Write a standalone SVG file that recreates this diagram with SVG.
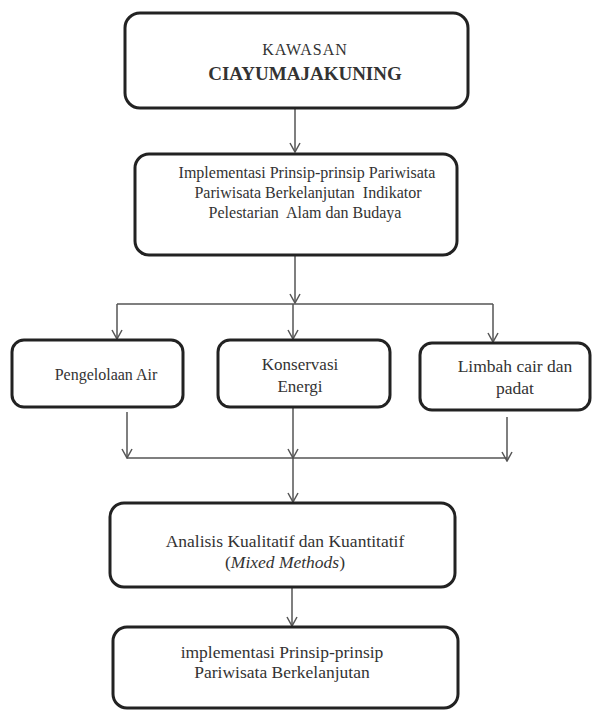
<svg xmlns="http://www.w3.org/2000/svg" width="592" height="711" viewBox="0 0 592 711">
<style>
.box{fill:#fff;stroke:#222;stroke-width:3}
.t{font-family:"Liberation Serif","Times New Roman",serif;font-size:16px;fill:#333;text-anchor:middle;white-space:pre}
.l{font-size:17.5px}
.c{fill:none;stroke:#555;stroke-width:1.5}
</style>
<defs>
<marker id="ah" viewBox="0 0 12 12" refX="11" refY="6" markerWidth="12" markerHeight="12" markerUnits="userSpaceOnUse" orient="auto">
<path d="M2,1 L11,6 L2,11" fill="none" stroke="#555" stroke-width="1.5"/>
</marker>
</defs>
<rect width="592" height="711" fill="#fff"/>
<g id="connectors">
<line class="c" x1="295" y1="109" x2="295" y2="152" marker-end="url(#ah)"/>
<line class="c" x1="295" y1="256" x2="295" y2="303" marker-end="url(#ah)"/>
<line class="c" x1="117" y1="304" x2="493" y2="304"/>
<line class="c" x1="117" y1="304" x2="117" y2="339" marker-end="url(#ah)"/>
<line class="c" x1="293" y1="304" x2="293" y2="339" marker-end="url(#ah)"/>
<line class="c" x1="493" y1="304" x2="493" y2="342" marker-end="url(#ah)"/>
<line class="c" x1="127" y1="412" x2="127" y2="458" marker-end="url(#ah)"/>
<line class="c" x1="293" y1="408" x2="293" y2="458" marker-end="url(#ah)"/>
<line class="c" x1="507" y1="417" x2="507" y2="461" marker-end="url(#ah)"/>
<line class="c" x1="127" y1="458" x2="507" y2="458"/>
<line class="c" x1="293" y1="458" x2="293" y2="502" marker-end="url(#ah)"/>
<line class="c" x1="292" y1="588" x2="292" y2="626" marker-end="url(#ah)"/>
</g>
<g id="kawasan">
<rect class="box" x="125" y="13" width="343" height="95" rx="15"/>
<text class="t" x="305" y="55" style="font-size:16px;letter-spacing:1px">KAWASAN</text>
<text class="t" x="305" y="80" style="font-size:19px;font-weight:bold">CIAYUMAJAKUNING</text>
</g>
<g id="implementasi1">
<rect class="box" x="135" y="154" width="322" height="101" rx="14"/>
<text class="t" x="307" y="178">Implementasi Prinsip-prinsip Pariwisata</text>
<text class="t" x="308" y="198">Pariwisata Berkelanjutan  Indikator</text>
<text class="t" x="305" y="218">Pelestarian  Alam dan Budaya</text>
</g>
<g id="air">
<rect class="box" x="12" y="340" width="171" height="67" rx="12"/>
<text class="t" x="106" y="380">Pengelolaan Air</text>
</g>
<g id="energi">
<rect class="box" x="218" y="340" width="172" height="67" rx="12"/>
<text class="t" x="300" y="370" style="font-size:17px">Konservasi</text>
<text class="t" x="300" y="392" style="font-size:17px">Energi</text>
</g>
<g id="limbah">
<rect class="box" x="420" y="343" width="170" height="67" rx="12"/>
<text class="t l" x="515" y="372">Limbah cair dan</text>
<text class="t l" x="515" y="394">padat</text>
</g>
<g id="analisis">
<rect class="box" x="110" y="503" width="345" height="84" rx="14"/>
<text class="t l" x="285" y="547">Analisis Kualitatif dan Kuantitatif</text>
<text class="t l" x="285" y="568">(<tspan font-style="italic">Mixed Methods</tspan>)</text>
</g>
<g id="implementasi2">
<rect class="box" x="113" y="627" width="345" height="81" rx="14"/>
<text class="t l" x="282" y="658">implementasi Prinsip-prinsip</text>
<text class="t l" x="282" y="678">Pariwisata Berkelanjutan</text>
</g>
</svg>
